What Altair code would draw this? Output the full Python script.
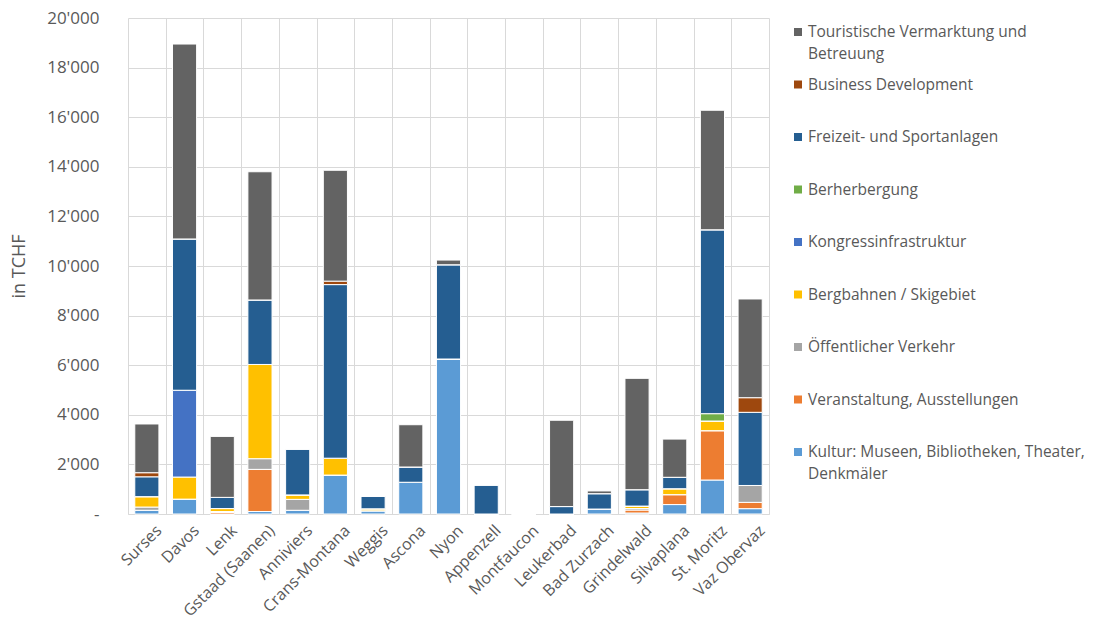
import altair as alt
import pandas as pd

orte = ["Surses", "Davos", "Lenk", "Gstaad (Saanen)", "Anniviers", "Crans-Montana",
        "Weggis", "Ascona", "Nyon", "Appenzell", "Montfaucon", "Leukerbad",
        "Bad Zurzach", "Grindelwald", "Silvaplana", "St. Moritz", "Vaz Obervaz"]

# stack order: bottom -> top
kategorien = [
    "Kultur: Museen, Bibliotheken, Theater, Denkmäler",
    "Veranstaltung, Ausstellungen",
    "Öffentlicher Verkehr",
    "Bergbahnen / Skigebiet",
    "Kongressinfrastruktur",
    "Berherbergung",
    "Freizeit- und Sportanlagen",
    "Business Development",
    "Touristische Vermarktung und Betreuung",
]
legend_texte = [
    "Kultur: Museen, Bibliotheken, Theater,\nDenkmäler",
    "Veranstaltung, Ausstellungen",
    "Öffentlicher Verkehr",
    "Bergbahnen / Skigebiet",
    "Kongressinfrastruktur",
    "Berherbergung",
    "Freizeit- und Sportanlagen",
    "Business Development",
    "Touristische Vermarktung und\nBetreuung",
]
farben = ["#5B9BD5", "#ED7D31", "#A5A5A5", "#FFC000", "#4472C4",
          "#70AD47", "#255E91", "#9E480E", "#636363"]

kultur       = [150, 600, 0, 100, 150, 1570, 130, 1280, 6250, 0, 0, 0, 200, 40, 380, 1370, 215]
veranstalt   = [0, 0, 60, 1700, 0, 0, 0, 0, 0, 0, 0, 0, 0, 120, 400, 1990, 255]
oeffentlich  = [130, 0, 40, 430, 440, 0, 0, 0, 0, 0, 0, 0, 0, 60, 0, 0, 680]
bergbahnen   = [420, 890, 120, 3800, 180, 680, 80, 0, 0, 0, 0, 0, 0, 100, 240, 390, 0]
kongress     = [0, 3500, 0, 0, 0, 0, 0, 0, 0, 0, 0, 0, 0, 0, 0, 0, 0]
beherbergung = [0, 0, 0, 0, 0, 0, 0, 0, 0, 0, 0, 0, 0, 0, 0, 295, 0]
freizeit     = [800, 6100, 450, 2600, 1850, 7000, 510, 615, 3800, 1170, 0, 300, 620, 660, 460, 7415, 2950]
business     = [165, 0, 0, 0, 0, 140, 0, 0, 0, 0, 0, 0, 0, 0, 0, 0, 590]
touristisch  = [1965, 7860, 2460, 5170, 0, 4470, 0, 1705, 190, 0, 0, 3480, 110, 4490, 1540, 4820, 3980]

serien = [kultur, veranstalt, oeffentlich, bergbahnen, kongress,
          beherbergung, freizeit, business, touristisch]

rows = []
for i, (kat, werte) in enumerate(zip(kategorien, serien)):
    for ort, w in zip(orte, werte):
        rows.append({"Ort": ort, "Kategorie": kat, "Wert": w, "idx": i})
df = pd.DataFrame(rows)

FONT = "Open Sans"
GRAY_TXT = "#595959"
GRID = "#D9D9D9"

farbskala = alt.Scale(domain=kategorien, range=farben)

bars = alt.Chart(df).mark_bar(
    stroke="white", strokeWidth=1, width={"band": 0.64}
).encode(
    x=alt.X("Ort:N", sort=orte,
            scale=alt.Scale(paddingInner=0, paddingOuter=0),
            axis=alt.Axis(title=None, labelAngle=-45, tickBand="extent", grid=True,
                          gridColor=GRID, ticks=False, domainColor=GRID,
                          labelFontSize=16, labelColor=GRAY_TXT, labelFont=FONT,
                          labelPadding=8, labelOffset=6, labelLimit=300,
                          labelOverlap=False)),
    y=alt.Y("Wert:Q", stack="zero",
            scale=alt.Scale(domain=[0, 20000]),
            axis=alt.Axis(values=list(range(0, 20001, 2000)), title="in TCHF",
                          labelExpr="datum.value == 0 ? '-' : replace(format(datum.value, ','), ',', \"'\")",
                          grid=True, gridColor=GRID, domain=False, ticks=False,
                          labelPadding=29, labelFontSize=17, labelColor=GRAY_TXT,
                          labelFont=FONT, titleFont=FONT, titleFontSize=18,
                          titleFontWeight="normal", titleColor=GRAY_TXT,
                          titlePadding=18)),
    color=alt.Color("Kategorie:N", scale=farbskala, legend=None),
    order=alt.Order("idx:Q", sort="ascending"),
).properties(width=641, height=496)

leg_df = pd.DataFrame({"Kategorie": kategorien, "Label": legend_texte})
leg_order = list(reversed(kategorien))

base = alt.Chart(leg_df).encode(
    y=alt.Y("Kategorie:N", sort=leg_order,
            scale=alt.Scale(type="point", padding=0, range=[14, 434]), axis=None)
)
sq = base.mark_square(size=64, opacity=1).encode(
    x=alt.value(4),
    color=alt.Color("Kategorie:N", scale=farbskala, legend=None),
)
tx = base.mark_text(align="left", baseline="top", dy=-7, fontSize=15.5, font=FONT,
                    color=GRAY_TXT, lineBreak="\n", lineHeight=21.7).encode(
    x=alt.value(14), text="Label:N"
)
legend = (sq + tx).properties(width=300, height=496)

chart = alt.hconcat(bars, legend, spacing=25).properties(
    padding={"left": 10, "top": 9, "right": 5, "bottom": 2}
).configure_view(strokeWidth=0)

chart.save("out.html", embed_options={"renderer": "svg", "actions": False})
